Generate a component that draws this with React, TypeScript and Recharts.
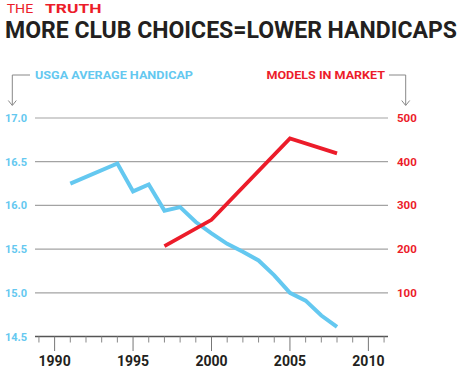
import React from "react";
import { LineChart, Line, XAxis, YAxis, CartesianGrid } from "recharts";

const handicapYears = [1991, 1994, 1995, 1996, 1997, 1998, 1999, 2000, 2001, 2002, 2003, 2004, 2005, 2006, 2007, 2008];
const handicapValues = [16.25, 16.48, 16.16, 16.24, 15.94, 15.98, 15.81, 15.68, 15.56, 15.47, 15.37, 15.2, 15.0, 14.91, 14.74, 14.61];
const modelYears = [1997, 2000, 2005, 2008];
const modelValues = [207, 267, 453, 419];
const leftTicks = [14.5, 15.0, 15.5, 16.0, 16.5, 17.0];
const rightTicks = [100, 200, 300, 400, 500];
const yearTicks = [1989, 1990, 1991, 1992, 1993, 1994, 1995, 1996, 1997, 1998, 1999, 2000, 2001, 2002, 2003, 2004, 2005, 2006, 2007, 2008, 2009, 2010, 2011];

const handicapData = handicapYears.map((year, i) => ({ year, hc: handicapValues[i] }));
const modelData = modelYears.map((year, i) => ({ year, models: modelValues[i] }));

const BLUE = "#64c8f0";
const RED = "#ec1c2a";
const FONT = "Roboto, 'DejaVu Sans', sans-serif";

const XTick = (props: any) => {
  const { x, y, payload } = props;
  const major = payload.value % 5 === 0;
  return (
    <g>
      <line x1={x} x2={x} y1={y} y2={y + (major ? 14.5 : 6)} stroke={major ? "#777" : "#888"} strokeWidth={1} />
      {major && (
        <text x={x} y={y + 29} textAnchor="middle" fontFamily={FONT} fontWeight={700} fontSize={14} fill="#231f20">
          {payload.value}
        </text>
      )}
    </g>
  );
};

const LeftTick = (props: any) => {
  const { y, payload } = props;
  return (
    <text x={5} y={y + 4} textAnchor="start" fontFamily={FONT} fontWeight={700} fontSize={11} fill={BLUE}>
      {payload.value.toFixed(1)}
    </text>
  );
};

const RightTick = (props: any) => {
  const { y, payload } = props;
  return (
    <text x={397} y={y + 4} textAnchor="start" fontFamily={FONT} fontWeight={700} fontSize={11.5} fill={RED}>
      {payload.value}
    </text>
  );
};

export default function App() {
  return (
    <div style={{ position: "absolute", left: 0, top: 0, width: 470, height: 368, background: "#fff", overflow: "hidden" }}>
      <LineChart width={470} height={368} margin={{ top: 118, right: 0, bottom: 0, left: 0 }}>
        <CartesianGrid yAxisId="left" horizontal={true} vertical={false} stroke="#a3a3a3" strokeWidth={1.2} />
        <XAxis
          dataKey="year"
          type="number"
          domain={[1988.75, 2011.25]}
          ticks={yearTicks}
          interval={0}
          allowDuplicatedCategory={false}
          height={31.5}
          tickSize={0}
          tickMargin={0}
          tickLine={false}
          axisLine={{ stroke: "#555", strokeWidth: 1.5 }}
          tick={<XTick />}
        />
        <YAxis
          yAxisId="left"
          orientation="left"
          width={35}
          domain={[14.5, 17]}
          ticks={leftTicks}
          axisLine={false}
          tickLine={false}
          tick={<LeftTick />}
        />
        <YAxis
          yAxisId="right"
          orientation="right"
          width={82}
          domain={[0, 500]}
          ticks={rightTicks}
          axisLine={false}
          tickLine={false}
          tick={<RightTick />}
        />
        <Line
          yAxisId="left"
          data={handicapData}
          dataKey="hc"
          stroke={BLUE}
          strokeWidth={4}
          dot={false}
          type="linear"
          isAnimationActive={false}
        />
        <Line
          yAxisId="right"
          data={modelData}
          dataKey="models"
          stroke={RED}
          strokeWidth={3.8}
          dot={false}
          type="linear"
          isAnimationActive={false}
        />
      </LineChart>
      <svg width={470} height={368} style={{ position: "absolute", left: 0, top: 0, pointerEvents: "none" }}>
        <text x={6.7} y={12.5} fontFamily={FONT} fontWeight={400} fontSize={13.5} fill={RED} textLength={26.5} lengthAdjust="spacingAndGlyphs">
          THE
        </text>
        <text x={45} y={12.5} fontFamily={FONT} fontWeight={700} fontSize={13.5} fill={RED} textLength={56.5} lengthAdjust="spacingAndGlyphs">
          TRUTH
        </text>
        <text x={5} y={37.7} fontFamily={FONT} fontWeight={700} fontSize={23.5} fill="#231f20" textLength={452} lengthAdjust="spacingAndGlyphs">
          MORE CLUB CHOICES=LOWER HANDICAPS
        </text>
        <text x={35} y={79} fontFamily={FONT} fontWeight={700} fontSize={11.5} fill={BLUE} textLength={158} lengthAdjust="spacingAndGlyphs">
          USGA AVERAGE HANDICAP
        </text>
        <text x={266.5} y={79} fontFamily={FONT} fontWeight={700} fontSize={11.5} fill={RED} textLength={118.5} lengthAdjust="spacingAndGlyphs">
          MODELS IN MARKET
        </text>
        <polyline points="30,75 12.3,75 12.3,105" fill="none" stroke="#888" strokeWidth={1} />
        <polyline points="8.3,100.5 12.3,105.5 16.3,100.5" fill="none" stroke="#888" strokeWidth={1} />
        <polyline points="389,75 405.7,75 405.7,105" fill="none" stroke="#888" strokeWidth={1} />
        <polyline points="401.7,100.5 405.7,105.5 409.7,100.5" fill="none" stroke="#888" strokeWidth={1} />
      </svg>
    </div>
  );
}
